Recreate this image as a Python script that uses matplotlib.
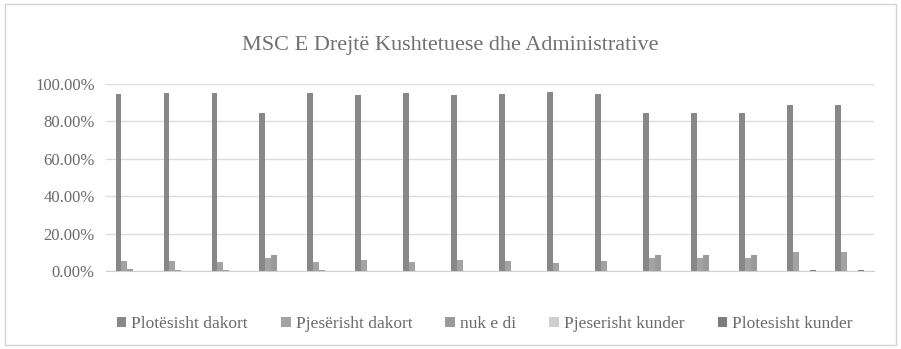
import numpy as np
import matplotlib
matplotlib.use('Agg')
import matplotlib.pyplot as plt
from matplotlib.patches import Rectangle
from matplotlib.ticker import FuncFormatter

# ===== Data (percent of respondents per question) =====
questions = [f'P{i}' for i in range(1, 17)]
plotesisht_dakort = [94.6, 94.9, 95.1, 84.3, 95.1, 94.3, 95.1, 94.3, 94.5, 95.5, 94.5, 84.3, 84.3, 84.3, 88.9, 88.9]
pjeserisht_dakort = [5.4, 5.1, 4.9, 7.0, 4.9, 5.7, 4.9, 5.7, 5.5, 4.5, 5.5, 7.0, 7.0, 7.0, 10.3, 10.3]
nuk_e_di = [1.0, 0.6, 0.6, 8.7, 0.8, 0.0, 0.0, 0.0, 0.0, 0.0, 0.0, 8.7, 8.7, 8.7, 0.0, 0.0]
pjeserisht_kunder = [0.0] * 16
plotesisht_kunder = [0.0] * 14 + [0.8, 0.8]

series = [
    ('Plotësisht dakort', plotesisht_dakort, '#888888'),
    ('Pjesërisht dakort', pjeserisht_dakort, '#a3a3a3'),
    ('nuk e di', nuk_e_di, '#9a9a9a'),
    ('Pjeserisht kunder', pjeserisht_kunder, '#cfcfcf'),
    ('Plotesisht kunder', plotesisht_kunder, '#7c7c7c'),
]

SERIF = ['Liberation Serif', 'DejaVu Serif']
plt.rcParams['font.family'] = SERIF

fig = plt.figure(figsize=(9.01, 3.49), dpi=100)
fig.patches.append(Rectangle((0.006, 0.012), 0.988, 0.976, transform=fig.transFigure,
                             fill=False, edgecolor='#d4d4d4', lw=1.0))

ax = fig.add_axes([0.1176, 0.2235, 0.852, 0.536])

x = np.arange(len(questions))
bw = 0.12
for k, (name, vals, col) in enumerate(series):
    offs = (k - 2) * bw
    ax.bar(x + offs, np.array(vals) / 100, width=bw, color=col,
           label=name, zorder=3)

ax.set_xlim(-0.5, len(questions) - 0.5)
ax.set_ylim(0, 1.0)
ax.set_yticks(np.arange(0, 1.01, 0.2))
ax.yaxis.set_major_formatter(FuncFormatter(lambda v, _: f'{v * 100:.2f}%'))
ax.set_xticks([])
ax.tick_params(axis='y', length=0, labelsize=12, labelcolor='#6a6a6a', pad=8)
ax.grid(True, axis='y', color='#dcdcdc', lw=1.0, zorder=0)
for sp in ['top', 'right', 'left']:
    ax.spines[sp].set_visible(False)
ax.spines['bottom'].set_color('#d0d0d0')

fig.text(0.5, 0.87, 'MSC E Drejtë Kushtetuese dhe Administrative',
         ha='center', va='center', fontsize=16, color='#707070')

leg = fig.legend(loc='center', bbox_to_anchor=(0.538, 0.072), ncol=5, frameon=False,
                 prop={'family': SERIF, 'size': 12.5},
                 handlelength=0.55, handleheight=0.55, handletextpad=0.3,
                 columnspacing=1.9)
for t in leg.get_texts():
    t.set_color('#6a6a6a')

fig.savefig('out.png', dpi=100, facecolor='white')
